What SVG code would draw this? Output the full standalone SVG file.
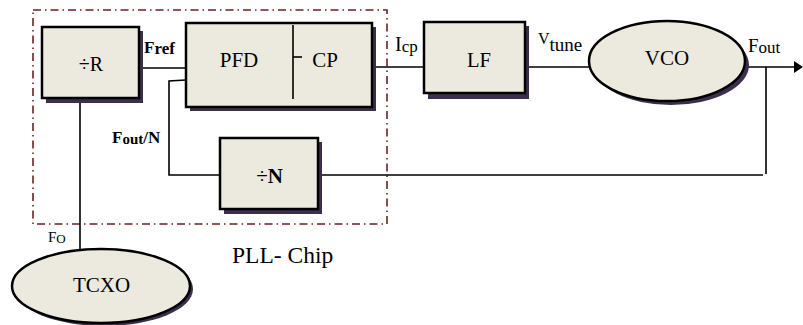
<svg xmlns="http://www.w3.org/2000/svg" width="803" height="325" viewBox="0 0 803 325" font-family="'Liberation Serif', 'Times New Roman', serif">
<style>
.box{fill:#ece9de;stroke:#000;stroke-width:2.5}
.sh{fill:#3b2f4d}
.w{fill:none;stroke:#000;stroke-width:1.6}
text{font-family:'Liberation Serif','Times New Roman',serif;fill:#000}
</style>
<rect width="803" height="325" fill="#fff"/>
<g id="pll-chip">
<rect x="33" y="10" width="354" height="214" fill="none" stroke="#6b2222" stroke-width="1.6" stroke-dasharray="8,4,1.5,4"/>
<text x="232" y="263" font-size="23.5">PLL- Chip</text>
</g>
<g id="connectors">
<line class="w" x1="139" y1="68" x2="186" y2="68"/>
<polyline class="w" points="186,80 169,81 169,175 220,175" stroke-width="2"/>
<line class="w" x1="318" y1="175" x2="763" y2="175"/>
<line class="w" x1="766" y1="67" x2="766" y2="174"/>
<line class="w" x1="372" y1="67" x2="424" y2="67"/>
<line class="w" x1="525" y1="67" x2="589" y2="67"/>
<line class="w" x1="746" y1="67" x2="795" y2="67" stroke-width="2"/>
<path d="M794,61 L803,67 L794,73 z" fill="#000"/>
<line class="w" x1="80" y1="101" x2="80" y2="249"/>
<text x="144" y="53" font-size="17" font-weight="bold">F<tspan font-size="17" dy="1">ref</tspan></text>
<text x="112" y="143" font-size="17" font-weight="bold">F<tspan font-size="15" dy="1">out</tspan><tspan dy="-1">/N</tspan></text>
<text x="395" y="51" font-size="20">I<tspan font-size="17" dy="1">cp</tspan></text>
<text x="538" y="44" font-size="16">V<tspan font-size="19" dy="7">tune</tspan></text>
<text x="748" y="52" font-size="19">F<tspan font-size="17" dy="1">out</tspan></text>
<text x="48" y="242" font-size="15">F<tspan font-size="13" dy="1">O</tspan></text>
</g>
<g id="divR">
<rect class="sh" x="46" y="31" width="97" height="72"/>
<rect class="box" x="42" y="27" width="97" height="71"/>
<text x="91" y="71" font-size="20" text-anchor="middle">÷R</text>
</g>
<g id="pfdcp">
<rect class="sh" x="190" y="27" width="186" height="84"/>
<rect class="box" x="186" y="23" width="186" height="84"/>
<line x1="293" y1="25" x2="293" y2="99" stroke="#000" stroke-width="1.6"/>
<line x1="293" y1="57" x2="302" y2="57" stroke="#000" stroke-width="1.6"/>
<text x="239" y="67" font-size="21" text-anchor="middle">PFD</text>
<text x="325" y="67" font-size="21" text-anchor="middle">CP</text>
</g>
<g id="lf">
<rect class="sh" x="428" y="26" width="101" height="73"/>
<rect class="box" x="424" y="22" width="101" height="71"/>
<text x="479" y="67" font-size="20.5" text-anchor="middle">LF</text>
</g>
<g id="vco">
<ellipse cx="671" cy="65" rx="78" ry="40" class="sh"/>
<ellipse cx="667" cy="61" rx="78" ry="40" class="box"/>
<text x="667" y="65" font-size="21" text-anchor="middle">VCO</text>
</g>
<g id="divN">
<rect class="sh" x="224" y="142" width="98" height="72"/>
<rect class="box" x="220" y="138" width="98" height="71"/>
<text x="269.5" y="183" font-size="21" text-anchor="middle">÷<tspan font-weight="bold">N</tspan></text>
</g>
<g id="tcxo">
<ellipse cx="104" cy="289" rx="89" ry="37" class="sh"/>
<ellipse cx="101" cy="286" rx="89" ry="37" class="box"/>
<text x="101.5" y="292" font-size="21" text-anchor="middle">TCXO</text>
</g>
</svg>
